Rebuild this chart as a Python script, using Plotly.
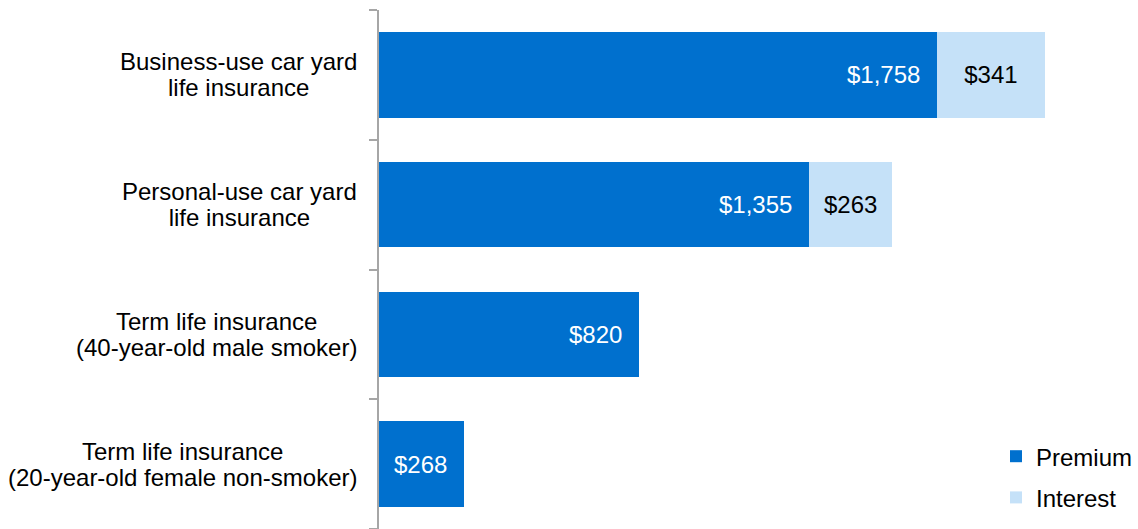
import plotly.graph_objects as go

categories = [
    "Business-use car yard<br>life insurance",
    "Personal-use car yard<br>life insurance",
    "Term life insurance<br>(40-year-old male smoker)",
    "Term life insurance<br>(20-year-old female non-smoker)",
]
premium = [1758, 1355, 820, 268]
interest = [341, 263, None, None]
premium_labels = ["$1,758", "$1,355", "$820", "$268"]
interest_labels = ["$341", "$263", "", ""]

PREM_COLOR = "#0070CE"
INT_COLOR = "#C5E1F8"
FONT = "Liberation Sans, Arial, sans-serif"
FS = 24

fig = go.Figure()
fig.add_trace(go.Bar(
    y=categories, x=premium, orientation="h", name="Premium",
    marker=dict(color=PREM_COLOR, line=dict(width=0)),
    width=0.66, legendgroup="p", hoverinfo="skip",
))
fig.add_trace(go.Bar(
    y=categories, x=interest, orientation="h", name="Interest",
    marker=dict(color=INT_COLOR, line=dict(width=0)),
    width=0.66, legendgroup="i",
    text=interest_labels, textposition="inside", insidetextanchor="middle",
    textfont=dict(color="black", size=FS, family=FONT), hoverinfo="skip",
))

annotations = []
for cat, v, lab in zip(categories, premium, premium_labels):
    annotations.append(dict(
        x=v, y=cat, xref="x", yref="y", text=lab, showarrow=False,
        xanchor="right", yanchor="middle", xshift=-15,
        font=dict(color="white", size=FS, family=FONT),
    ))
for cat in categories:
    lines = cat.split("<br>")
    txt = "<br>".join('<span style="font-size:%dpx">%s</span>' % (FS, l) for l in lines)
    annotations.append(dict(
        x=0, y=cat, xref="paper", yref="y", text=txt, showarrow=False,
        xanchor="right", yanchor="middle", xshift=-20, align="center",
        font=dict(color="black", size=20, family=FONT),
    ))

fig.update_layout(
    barmode="stack",
    width=1138, height=529,
    margin=dict(l=379, r=0, t=10, b=0),
    paper_bgcolor="white", plot_bgcolor="white",
    font=dict(family=FONT, size=FS, color="black"),
    annotations=annotations,
    showlegend=True,
    legend=dict(x=1.0, y=0.1, xanchor="right", yanchor="middle",
                traceorder="grouped", tracegroupgap=7,
                bgcolor="rgba(0,0,0,0)", font=dict(size=FS, family=FONT),
                itemclick=False),
)
fig.update_xaxes(range=[0, 2392], visible=False, fixedrange=True)
fig.update_yaxes(
    categoryorder="array", categoryarray=categories[::-1],
    showticklabels=False, showline=True, linecolor="#A6A6A6", linewidth=2,
    ticks="outside", tickson="boundaries", ticklen=8, tickcolor="#A6A6A6",
    tickwidth=2, showgrid=False, zeroline=False, fixedrange=True,
)

fig.write_html("out.html")
